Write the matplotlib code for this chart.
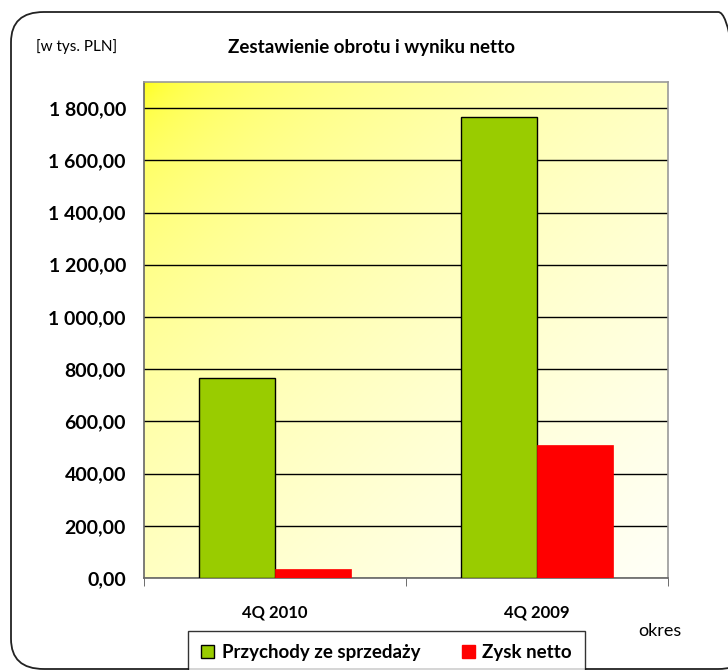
import numpy as np
from matplotlib import pyplot as plt
from matplotlib.patches import FancyBboxPatch, Patch

categories = ['4Q 2010', '4Q 2009']
przychody = [766, 1765]
zysk = [33, 508]
series_names = ['Przychody ze sprzedaży', 'Zysk netto']
y_ticks = [0, 200, 400, 600, 800, 1000, 1200, 1400, 1600, 1800]

plt.rcParams['font.family'] = ['Lato', 'DejaVu Sans']

fig = plt.figure(figsize=(7.28, 6.70), dpi=100)

# outer rounded frame (right side runs off the picture)
frame = FancyBboxPatch((11 / 728, 1 / 670), 740 / 728, 657 / 670,
                       boxstyle='round,pad=0,rounding_size=0.045',
                       transform=fig.transFigure, fill=False,
                       edgecolor='#222222', linewidth=1.3)
fig.patches.append(frame)

ax = fig.add_axes([144 / 728, 1 - 578 / 670, 524 / 728, 496 / 670])

x = np.arange(len(categories))
w = 0.29

# diagonal yellow gradient background
gx, gy = np.meshgrid(np.linspace(0, 1, 200), np.linspace(0, 1, 200))
t = np.clip((gx + gy) / 2, 0, 1) ** 0.35
c0 = np.array([1.0, 1.0, 0.0])
c1 = np.array([1.0, 1.0, 0.97])
img = c0[None, None, :] * (1 - t[..., None]) + c1[None, None, :] * t[..., None]
ax.imshow(img, extent=[-0.5, 1.5, 0, 1900], aspect='auto', zorder=0,
          origin='upper')

ax.bar(x - w / 2, przychody, w, color='#99CC00', edgecolor='#000000',
       linewidth=1.0, zorder=3)
ax.bar(x + w / 2, zysk, w, color='#FF0000', edgecolor='#FF0000',
       linewidth=0.5, zorder=3)

ax.set_xlim(-0.5, 1.5)
ax.set_ylim(0, 1900)
ax.set_yticks(y_ticks)
ax.set_yticklabels(['{:,.2f}'.format(v).replace(',', ' ').replace('.', ',')
                    for v in y_ticks], fontsize=14, fontweight='bold')
ax.tick_params(axis='y', length=0, pad=13)
ax.yaxis.grid(True, color='#000000', linewidth=1.0, zorder=1)
ax.set_axisbelow(True)

ax.set_xticks(x)
ax.set_xticklabels(categories, fontsize=12, fontweight='bold')
ax.tick_params(axis='x', length=0, pad=19)
ax.set_xticks([-0.5, 0.5, 1.5], minor=True)
ax.tick_params(axis='x', which='minor', length=6, color='#555555')

for s in ['left', 'bottom']:
    ax.spines[s].set_color('#666666')
    ax.spines[s].set_linewidth(1.2)
for s in ['top', 'right']:
    ax.spines[s].set_color('#999999')
    ax.spines[s].set_linewidth(1.2)

fig.text(36 / 728, 1 - 47 / 670, '[w tys. PLN]', fontsize=11,
         ha='left', va='center')
fig.text(372 / 728, 1 - 47 / 670, 'Zestawienie obrotu i wyniku netto',
         fontsize=13.5, fontweight='bold', ha='center', va='center')
fig.text(660 / 728, 1 - 631 / 670, 'okres', fontsize=13,
         ha='center', va='center')

handles = [Patch(facecolor='#99CC00', edgecolor='#000000'),
           Patch(facecolor='#FF0000', edgecolor='#FF0000')]
leg = fig.legend(handles, series_names, loc='upper left',
                 bbox_to_anchor=(188 / 728, 1 - 631 / 670), ncol=2,
                 prop={'weight': 'bold', 'size': 13.5}, frameon=True,
                 fancybox=False, edgecolor='#000000', handlelength=0.7,
                 handleheight=0.7, handletextpad=0.4, columnspacing=2.2,
                 borderpad=0.7, borderaxespad=0)
leg.get_frame().set_linewidth(1.0)

plt.savefig('out.png', dpi=100)
